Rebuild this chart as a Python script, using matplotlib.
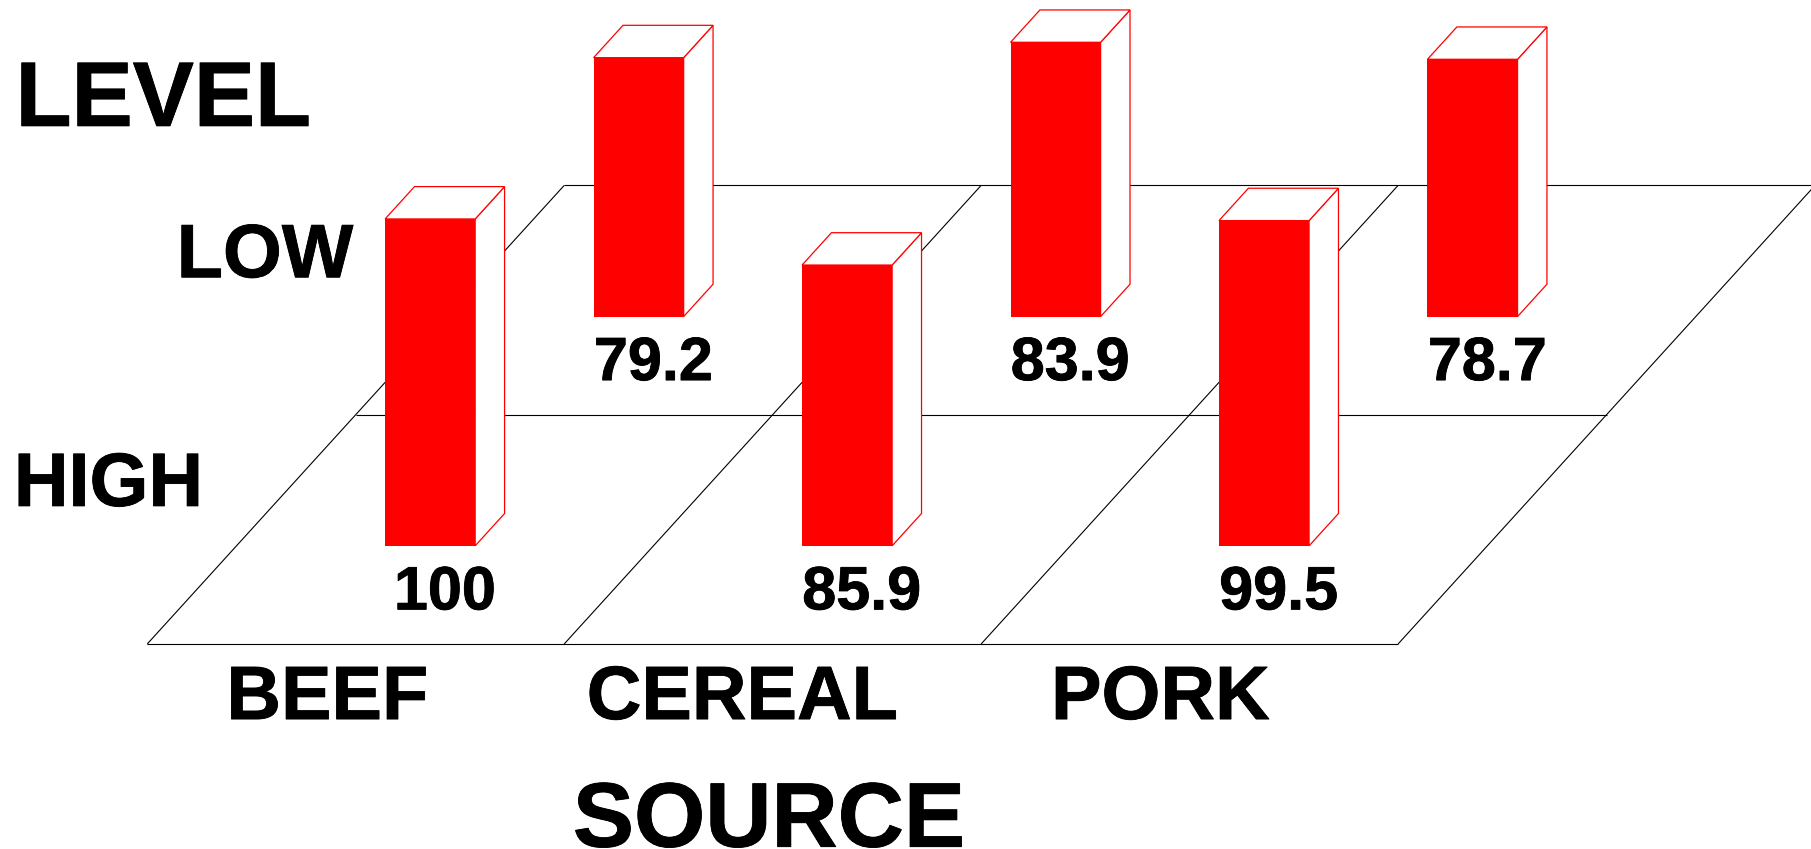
import matplotlib
matplotlib.use("Agg")
import matplotlib.pyplot as plt
import matplotlib.patheffects as pe
from matplotlib.patches import Polygon

sources = ["BEEF", "CEREAL", "PORK"]
levels = ["HIGH", "LOW"]
# one row per level, one column per source
values = [
    [100, 85.9, 99.5],
    [79.2, 83.9, 78.7],
]
value_labels = [
    ["100", "85.9", "99.5"],
    ["79.2", "83.9", "78.7"],
]

# oblique floor projection, in 1568x735 canvas units
origin = (127.5, 557.5)
cell_w = 361.0
shear_x = 180.5
depth_y = 198.5
height_scale = 2.83

bar_u = 0.3565
bar_v = 0.428
bar_w = 0.216
bar_d = 0.141

plt.rcParams["font.family"] = "Liberation Sans"
plt.rcParams["font.weight"] = "bold"

# the labels are set a little heavier than plain bold
heavy = [pe.withStroke(linewidth=0.6, foreground="black")]


def project(u, v, h=0.0):
    """Floor position (u, v) and height h to canvas x, y."""
    return origin[0] + cell_w * u + shear_x * v, origin[1] - depth_y * v - h * height_scale


def draw_bar(ax, i, j, value):
    u0, u1 = i + bar_u, i + bar_u + bar_w
    v0, v1 = j + bar_v, j + bar_v + bar_d
    front = [project(u0, v0), project(u1, v0), project(u1, v0, value), project(u0, v0, value)]
    side = [project(u1, v0), project(u1, v1), project(u1, v1, value), project(u1, v0, value)]
    top = [project(u0, v0, value), project(u1, v0, value), project(u1, v1, value), project(u0, v1, value)]
    ax.add_patch(Polygon(side, fc="white", ec="red", lw=0.9, zorder=3))
    ax.add_patch(Polygon(top, fc="white", ec="red", lw=0.9, zorder=3))
    ax.add_patch(Polygon(front, fc="red", ec="none", zorder=4))


def label(ax, x, y, text, size, ha="left"):
    ax.text(x, y, text, fontsize=size, ha=ha, va="baseline", color="black",
            zorder=5, path_effects=heavy)


fig = plt.figure(figsize=(18.11, 8.49), dpi=100)
ax = fig.add_axes([0, 0, 1, 1])
ax.set_xlim(0, 1568)
ax.set_ylim(735, 0)
ax.axis("off")

# floor grid
n_src = len(sources)
n_lev = len(levels)
for j in range(n_lev + 1):
    xs, ys = zip(project(0, j), project(n_src, j))
    ax.plot(xs, ys, color="black", lw=0.8, zorder=1, solid_capstyle="butt")
for i in range(n_src + 1):
    xs, ys = zip(project(i, 0), project(i, n_lev))
    ax.plot(xs, ys, color="black", lw=0.8, zorder=1, solid_capstyle="butt")

# back row first so the front bars sit on top
for j in reversed(range(n_lev)):
    for i in range(n_src):
        draw_bar(ax, i, j, values[j][i])
        cx = project(i + bar_u + bar_w / 2, j + bar_v + bar_d / 2)[0]
        base_y = project(0, j + bar_v)[1]
        label(ax, cx, base_y + 55, value_labels[j][i], 44, ha="center")

label(ax, 13.5, 109, "LEVEL", 66)
label(ax, 153, 240, levels[1], 54.5)
label(ax, 12, 438, levels[0], 54.5)
label(ax, 196, 622.5, sources[0], 54.5)
label(ax, 508, 622.5, sources[1], 54.5)
label(ax, 910, 622.5, sources[2], 54.5)
label(ax, 496, 733, "SOURCE", 66)

fig.savefig("out.png", dpi=100)
